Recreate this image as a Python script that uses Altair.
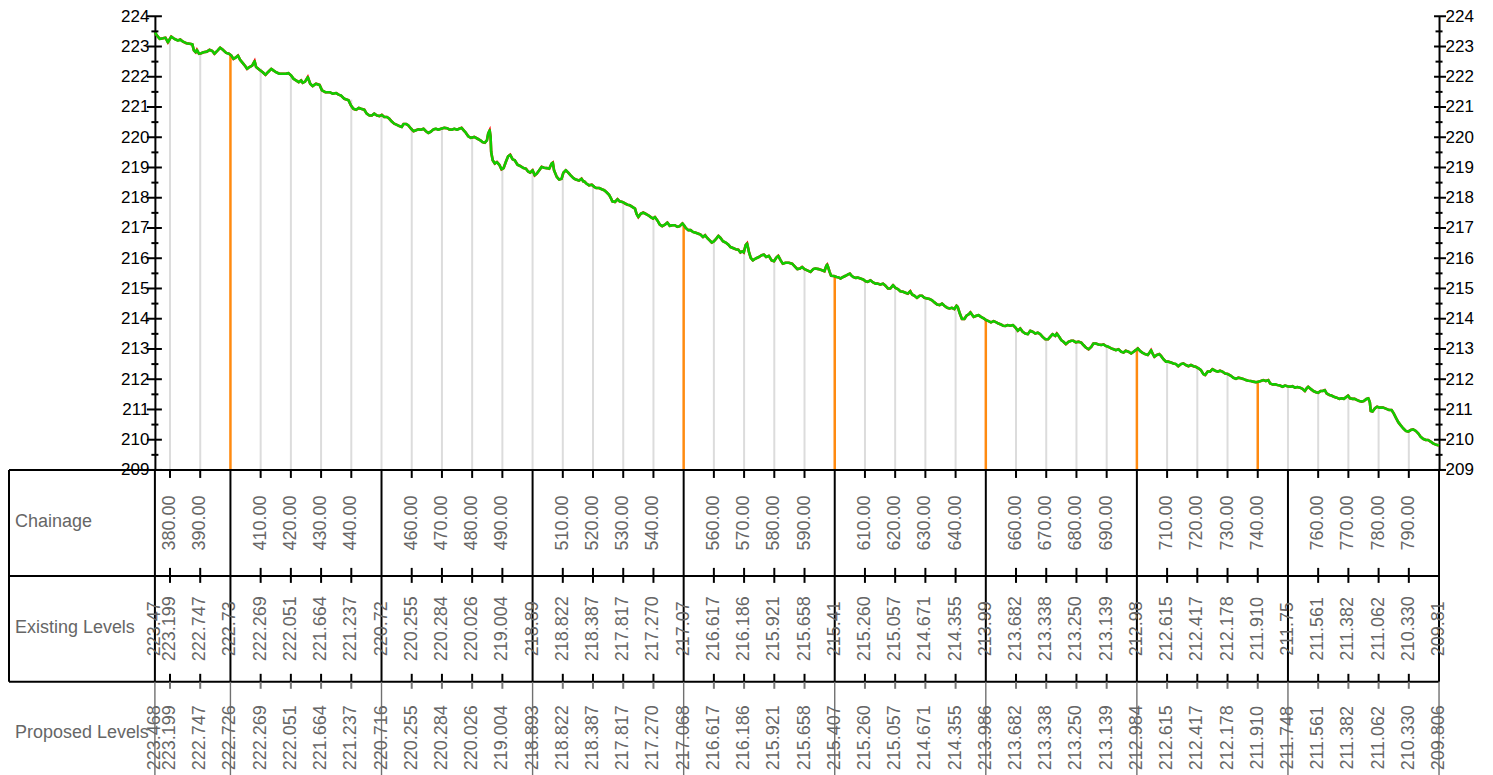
import altair as alt
import pandas as pd

FONT = "Liberation Sans"

# ---------------- data ----------------
# ground profile (chainage, level)
profile_points = [
    (375.0, 223.47), (375.7, 223.36), (376.6, 223.25), (377.7, 223.27), (378.5, 223.29), (379.3, 223.14),
    (380.4, 223.33), (381.5, 223.25), (382.6, 223.20), (383.4, 223.23), (384.3, 223.16), (385.4, 223.11),
    (386.5, 223.09), (387.4, 223.07), (387.9, 222.87), (388.5, 222.81), (388.9, 222.89), (389.6, 222.76),
    (390.3, 222.78), (391.1, 222.81), (392.2, 222.83), (393.1, 222.89), (394.0, 222.85), (394.7, 222.76),
    (395.8, 222.87), (396.6, 222.96), (397.5, 222.89), (398.6, 222.79), (399.5, 222.76), (400.3, 222.70),
    (401.0, 222.59), (401.7, 222.63), (402.5, 222.70), (403.2, 222.56), (404.1, 222.45), (405.0, 222.34),
    (405.5, 222.26), (406.3, 222.32), (407.2, 222.37), (408.0, 222.52), (408.5, 222.32), (409.6, 222.23),
    (410.7, 222.15), (411.6, 222.06), (412.4, 222.15), (413.5, 222.26), (414.2, 222.21), (415.1, 222.15),
    (416.2, 222.10), (417.3, 222.10), (418.4, 222.10), (419.2, 222.12), (420.1, 222.04), (420.9, 221.93),
    (421.7, 221.88), (422.6, 221.82), (423.4, 221.88), (423.9, 221.80), (424.7, 221.84), (425.6, 221.99),
    (426.4, 221.77), (427.2, 221.69), (428.3, 221.77), (429.5, 221.73), (430.3, 221.55), (431.4, 221.49),
    (432.8, 221.49), (433.9, 221.44), (435.0, 221.46), (435.8, 221.41), (436.6, 221.38), (437.7, 221.27),
    (439.1, 221.22), (439.9, 221.05), (440.7, 220.94), (441.6, 220.91), (442.5, 220.97), (443.2, 220.94),
    (444.3, 220.91), (445.1, 220.78), (446.0, 220.72),
    (446.8, 220.72), (447.6, 220.78), (448.5, 220.72), (449.3, 220.70), (450.1, 220.74), (450.9, 220.67),
    (451.8, 220.67), (452.6, 220.61), (453.4, 220.52), (454.2, 220.45), (455.1, 220.41), (455.9, 220.37),
    (456.7, 220.34), (457.3, 220.44), (458.1, 220.44), (458.9, 220.39), (459.8, 220.28), (460.6, 220.20),
    (461.4, 220.23), (462.2, 220.26), (463.1, 220.25), (463.9, 220.28), (464.7, 220.20), (465.5, 220.14),
    (466.4, 220.19), (467.2, 220.26), (468.0, 220.28), (468.8, 220.25), (469.7, 220.28), (470.8, 220.31),
    (471.7, 220.30), (472.4, 220.26), (473.2, 220.25), (474.1, 220.28), (475.0, 220.25), (475.7, 220.28),
    (476.5, 220.31), (477.2, 220.23), (477.9, 220.15), (478.7, 220.03), (479.6, 219.98), (480.7, 220.01),
    (481.8, 219.95), (482.7, 219.90), (483.4, 219.84), (484.2, 219.82), (484.9, 219.90), (485.3, 220.12),
    (485.8, 220.23), (486.1, 220.01), (486.3, 219.51), (486.8, 219.24), (487.5, 219.13), (488.2, 219.18),
    (489.0, 219.09), (489.7, 218.94), (490.4, 218.98), (491.2, 219.20), (491.9, 219.37), (492.6, 219.42),
    (493.4, 219.27), (494.1, 219.24), (495.0, 219.09), (495.9, 219.05), (497.0, 218.98), (497.8, 218.96),
    (498.5, 218.87), (499.2, 218.83), (500.0, 218.91), (500.7, 218.74), (501.4, 218.80), (502.2, 218.91),
    (503.0, 219.02), (503.8, 218.99), (504.7, 218.98), (505.5, 218.96), (506.3, 219.13), (506.7, 219.16),
    (507.1, 218.91), (508.0, 218.69), (508.8, 218.60), (509.6, 218.63), (510.2, 218.83), (511.0, 218.91),
    (511.8, 218.83), (512.6, 218.74), (513.5, 218.65), (514.3, 218.60), (515.4, 218.57), (516.2, 218.63),
    (516.8, 218.54),
    (517.1, 218.54), (517.8, 218.47), (518.7, 218.41), (519.6, 218.43), (520.4, 218.36), (521.1, 218.32),
    (522.0, 218.32), (522.9, 218.28), (523.7, 218.25), (524.4, 218.19), (525.3, 218.10), (525.9, 217.99),
    (526.4, 217.88), (527.3, 217.86), (528.1, 217.95), (528.8, 217.88), (529.7, 217.86), (530.6, 217.81),
    (531.4, 217.77), (532.2, 217.75), (533.0, 217.70), (533.9, 217.64), (534.4, 217.47), (535.0, 217.36),
    (535.8, 217.47), (536.6, 217.51), (537.4, 217.47), (538.3, 217.42), (539.1, 217.36), (539.9, 217.31),
    (540.5, 217.36), (541.3, 217.25), (542.1, 217.11), (542.9, 217.06), (543.8, 217.11), (544.6, 217.18),
    (545.4, 217.07), (546.3, 217.09), (547.1, 217.09), (547.9, 217.04), (548.7, 217.06), (549.6, 217.15),
    (550.1, 217.09), (550.7, 217.00), (551.5, 216.93), (552.3, 216.93), (553.1, 216.87), (554.0, 216.84),
    (554.9, 216.81), (555.6, 216.78), (556.4, 216.70), (557.1, 216.76), (557.8, 216.67), (558.6, 216.59),
    (559.3, 216.52), (560.0, 216.56), (560.8, 216.65), (561.5, 216.74), (562.2, 216.67), (563.0, 216.56),
    (563.9, 216.52), (564.8, 216.45), (565.5, 216.37), (566.3, 216.34), (567.2, 216.30), (568.1, 216.28),
    (568.8, 216.19), (569.4, 216.23), (569.9, 216.19), (570.5, 216.43), (571.0, 216.49), (571.6, 216.21),
    (572.2, 216.01), (572.9, 215.93), (573.8, 215.99), (574.9, 216.04), (575.8, 216.10), (576.6, 216.12),
    (577.3, 216.04), (578.2, 216.08), (579.1, 215.93), (579.9, 215.90), (580.6, 216.01), (581.3, 216.08),
    (582.1, 215.93), (582.8, 215.82), (583.7, 215.85), (584.8, 215.85), (585.9, 215.82),
    (587.6, 215.64), (588.5, 215.66), (589.2, 215.71), (590.0, 215.64), (590.9, 215.60), (592.0, 215.55),
    (592.9, 215.64), (593.6, 215.66), (594.7, 215.64), (595.8, 215.60), (596.6, 215.57), (597.2, 215.75),
    (597.5, 215.79), (597.8, 215.71), (598.3, 215.55), (598.8, 215.42), (599.7, 215.41), (600.6, 215.38),
    (601.4, 215.36), (601.9, 215.33), (602.8, 215.38), (603.6, 215.42), (604.3, 215.46), (605.0, 215.49),
    (605.4, 215.44), (606.1, 215.38), (606.9, 215.35), (607.6, 215.36), (608.5, 215.33), (609.4, 215.30),
    (610.2, 215.24), (610.9, 215.22), (611.8, 215.27), (612.7, 215.20), (613.5, 215.16), (614.2, 215.16),
    (615.1, 215.13), (616.0, 215.16), (616.8, 215.09), (617.6, 215.00), (618.4, 215.00), (619.3, 215.11),
    (620.1, 215.02), (620.9, 214.98), (621.7, 214.91), (622.6, 214.89), (623.4, 214.86), (624.2, 214.83),
    (625.0, 214.91), (625.6, 214.80), (626.4, 214.76), (627.2, 214.69), (628.1, 214.76), (628.9, 214.76),
    (629.7, 214.69), (630.6, 214.67), (631.4, 214.65), (632.2, 214.61), (633.0, 214.54), (633.9, 214.47),
    (634.7, 214.45), (635.5, 214.50), (636.3, 214.43), (637.2, 214.36), (638.0, 214.34), (638.8, 214.36),
    (639.6, 214.32), (640.3, 214.43), (640.7, 214.39), (641.4, 214.17), (642.1, 213.99), (642.9, 213.99),
    (643.6, 214.10), (644.3, 214.14), (644.9, 214.21), (645.4, 214.14), (646.0, 214.06), (646.9, 214.10),
    (647.6, 214.12), (648.4, 214.06), (649.3, 214.01), (650.2, 213.95), (650.9, 213.92), (651.7, 213.88),
    (652.6, 213.92), (653.5, 213.88), (654.2, 213.84), (655.0, 213.81), (655.7, 213.77), (656.5, 213.76),
    (657.2, 213.79), (658.1, 213.77), (659.0, 213.79),
    (659.8, 213.71), (660.6, 213.60), (661.4, 213.68), (662.2, 213.57), (663.1, 213.51), (663.9, 213.49),
    (664.7, 213.60), (665.5, 213.57), (666.4, 213.51), (667.2, 213.54), (668.0, 213.49), (668.8, 213.40),
    (669.7, 213.32), (670.6, 213.32), (671.3, 213.40), (672.1, 213.49), (673.0, 213.43), (673.5, 213.51),
    (674.1, 213.43), (675.0, 213.29), (675.7, 213.24), (676.5, 213.16), (677.4, 213.24), (678.3, 213.27),
    (679.0, 213.27), (679.8, 213.22), (680.7, 213.24), (681.6, 213.21), (682.3, 213.13), (683.1, 213.05),
    (684.0, 212.99), (684.9, 213.07), (685.6, 213.18), (686.4, 213.18), (687.3, 213.15), (688.2, 213.13),
    (689.0, 213.15), (689.7, 213.10), (690.6, 213.07), (691.5, 213.02), (692.3, 212.99), (693.0, 212.96),
    (693.9, 212.99), (694.8, 212.91), (695.6, 212.88), (696.3, 212.94), (697.2, 212.91), (698.1, 212.85),
    (698.9, 212.91), (699.6, 212.96), (700.3, 213.02), (701.1, 212.93), (701.8, 212.88), (702.7, 212.83),
    (703.6, 212.80), (704.4, 212.91), (704.7, 212.96), (705.2, 212.85), (705.8, 212.74), (706.6, 212.80),
    (707.4, 212.83), (708.0, 212.77), (708.8, 212.66), (709.6, 212.58), (710.4, 212.58), (711.3, 212.55),
    (712.1, 212.52), (712.9, 212.50), (713.7, 212.43), (714.6, 212.50), (715.4, 212.52), (716.2, 212.47),
    (717.1, 212.43), (717.9, 212.47), (718.7, 212.43), (719.5, 212.41), (720.4, 212.36), (721.2, 212.30),
    (722.0, 212.17), (722.6, 212.14), (723.4, 212.25), (724.2, 212.25), (725.0, 212.33), (725.9, 212.28),
    (726.8, 212.25), (727.5, 212.28), (728.3, 212.25), (729.2, 212.19), (730.1, 212.17),
    (731.0, 212.12), (731.9, 212.05), (732.8, 212.01), (733.6, 212.05), (734.4, 212.03), (735.2, 212.01),
    (736.1, 211.97), (736.9, 211.95), (737.7, 211.94), (738.5, 211.92), (739.4, 211.90), (740.2, 211.92),
    (741.0, 211.94), (741.8, 211.97), (742.7, 211.94), (743.5, 211.97), (744.1, 211.86), (744.9, 211.83),
    (745.7, 211.83), (746.5, 211.81), (747.4, 211.79), (748.2, 211.75), (749.0, 211.79), (749.8, 211.77),
    (750.7, 211.75), (751.5, 211.77), (752.3, 211.72), (753.1, 211.74), (754.0, 211.72), (754.8, 211.68),
    (755.6, 211.61), (756.2, 211.70), (756.7, 211.75), (757.5, 211.68), (758.4, 211.61), (759.3, 211.57),
    (760.0, 211.55), (760.8, 211.61), (761.5, 211.61), (762.2, 211.64), (762.8, 211.53), (763.7, 211.48),
    (764.4, 211.46), (765.2, 211.42), (766.1, 211.39), (767.0, 211.35), (767.7, 211.37), (768.5, 211.35),
    (769.4, 211.42), (769.9, 211.46), (770.5, 211.37), (771.4, 211.35), (772.1, 211.35), (772.9, 211.31),
    (773.6, 211.28), (774.4, 211.26), (775.1, 211.28), (776.0, 211.35), (776.6, 211.37), (777.1, 211.24),
    (777.4, 210.95), (778.0, 210.93), (778.8, 211.04), (779.5, 211.09), (780.4, 211.06), (781.5, 211.06),
    (782.6, 211.02), (783.5, 210.98), (784.3, 210.98), (785.0, 210.87), (785.7, 210.73), (786.5, 210.58),
    (787.2, 210.49), (788.1, 210.38), (789.0, 210.29), (789.8, 210.27), (790.6, 210.32), (791.4, 210.34),
    (792.3, 210.29), (793.1, 210.21), (793.9, 210.10), (794.7, 210.03), (795.6, 209.99), (796.4, 209.99),
    (797.2, 209.94), (798.0, 209.88), (799.1, 209.83), (800.0, 209.81),
]

# stations every 10 m (labelled in the Chainage row)
label_chainage = [380, 390, 410, 420, 430, 440, 460, 470, 480, 490, 510, 520, 530, 540,
                  560, 570, 580, 590, 610, 620, 630, 640, 660, 670, 680, 690,
                  710, 720, 730, 740, 760, 770, 780, 790]
label_level = [223.199, 222.747, 222.269, 222.051, 221.664, 221.237, 220.255, 220.284,
               220.026, 219.004, 218.822, 218.387, 217.817, 217.270, 216.617, 216.186,
               215.921, 215.658, 215.260, 215.057, 214.671, 214.355, 213.682, 213.338,
               213.250, 213.139, 212.615, 212.417, 212.178, 211.910, 211.561, 211.382,
               211.062, 210.330]

# section breaks
break_chainage = [375, 400, 450, 500, 550, 600, 650, 700, 750, 800]
break_existing = [223.47, 222.73, 220.72, 218.89, 217.07, 215.41, 213.99, 212.98, 211.75, 209.81]
break_proposed = [223.468, 222.726, 220.716, 218.893, 217.068, 215.407, 213.986, 212.984, 211.748, 209.806]

# stations highlighted in orange
orange_chainage = [400, 550, 600, 650, 700, 740]

major_ticks = list(range(209, 225))
minor_ticks = [v + 0.5 for v in range(209, 224)]

# ---------------- tables ----------------
profile_df = pd.DataFrame(profile_points, columns=["ch", "lev"])
labels_df = pd.DataFrame({
    "ch": label_chainage,
    "lev": label_level,
    "chtxt": [f"{c:.2f}" for c in label_chainage],
    "lvtxt": [f"{v:.3f}" for v in label_level],
})
breaks_df = pd.DataFrame({
    "ch": break_chainage,
    "ex": [f"{v:.2f}" for v in break_existing],
    "pr": [f"{v:.3f}" for v in break_proposed],
    "lev": break_existing,
})
drops_df = pd.concat([labels_df[["ch", "lev"]], breaks_df[["ch", "lev"]].iloc[1:-1]], ignore_index=True)
drops_df["orange"] = drops_df["ch"].isin(orange_chainage)
gray_df = drops_df[~drops_df["orange"]]
orange_df = drops_df[drops_df["orange"]]
major_df = pd.DataFrame({"v": major_ticks})
minor_df = pd.DataFrame({"v": minor_ticks})
one = pd.DataFrame({"k": [0]})

W, H = 1285, 454
xs = alt.Scale(domain=[375, 800], nice=False, zero=False)
ys = alt.Scale(domain=[209, 224], nice=False, zero=False)


def X():
    return alt.X("ch:Q", scale=xs, axis=None)


def Y(field):
    return alt.Y(field, scale=ys, axis=None)


TXT = "#666666"
FS = 18

gray = alt.Chart(gray_df).mark_rule(color="#dcdcdc", strokeWidth=2).encode(
    x=X(), y=Y("lev:Q"), y2=alt.datum(209))
orange = alt.Chart(orange_df).mark_rule(color="#ff8a10", strokeWidth=2.5).encode(
    x=X(), y=Y("lev:Q"), y2=alt.datum(209))
red = alt.Chart(profile_df).mark_line(color="#ff0000", strokeWidth=2.6, strokeJoin="miter",
                                      strokeMiterLimit=10).encode(x=X(), y=Y("lev:Q"))
green = alt.Chart(profile_df).mark_line(color="#11cc00", strokeWidth=2.6, strokeJoin="round").encode(
    x=X(), y=Y("lev:Q"))

axis_common = dict(values=major_ticks, format="d", ticks=False, domain=True, domainColor="black",
                   domainWidth=2, labelFontSize=17, labelColor="black", labelFont=FONT,
                   labelPadding=6, grid=False, title=None)

left_major = alt.Chart(major_df).mark_rule(color="black", strokeWidth=2).encode(
    y=alt.Y("v:Q", scale=ys, axis=alt.Axis(orient="left", **axis_common)),
    x=alt.value(-8), x2=alt.value(7))
left_minor = alt.Chart(minor_df).mark_rule(color="black", strokeWidth=2).encode(
    y=Y("v:Q"), x=alt.value(-3.5), x2=alt.value(3.5))
right_major = alt.Chart(major_df).mark_rule(color="black", strokeWidth=2).encode(
    y=alt.Y("v:Q", scale=ys, axis=alt.Axis(orient="right", **axis_common)),
    x=alt.value(W - 5), x2=alt.value(W + 7))
right_minor = alt.Chart(minor_df).mark_rule(color="black", strokeWidth=2).encode(
    y=Y("v:Q"), x=alt.value(W - 3.5), x2=alt.value(W + 3.5))

# table frame
TL = -146          # left edge of the label column
R1, R2, R3 = H, H + 106, H + 212
frame = []
for yy in (R1, R2, R3):
    frame.append(alt.Chart(one).mark_rule(color="black", strokeWidth=2).encode(
        x=alt.value(TL), x2=alt.value(W), y=alt.value(yy)))
frame.append(alt.Chart(one).mark_rule(color="black", strokeWidth=2).encode(
    x=alt.value(TL), y=alt.value(R1), y2=alt.value(R3)))
frame.append(alt.Chart(breaks_df).mark_rule(color="black", strokeWidth=2).encode(
    x=X(), y=alt.value(R1), y2=alt.value(R3)))
frame.append(alt.Chart(breaks_df).mark_rule(color="#707070", strokeWidth=1.4).encode(
    x=X(), y=alt.value(R3), y2=alt.value(R3 + 130)))
for y1, y2, col in ((R1, R1 + 8, "black"), (R2 - 8, R2 + 7, "black"),
                    (R3 - 8, R3, "black"), (R3, R3 + 7, "#777777")):
    frame.append(alt.Chart(labels_df).mark_rule(color=col, strokeWidth=2).encode(
        x=X(), y=alt.value(y1), y2=alt.value(y2)))

tstyle = dict(angle=270, fontSize=FS, color=TXT, font=FONT, align="center", baseline="middle")
texts = [
    alt.Chart(labels_df).mark_text(**tstyle).encode(x=X(), y=alt.value(R1 + 53), text="chtxt:N"),
    alt.Chart(labels_df).mark_text(**tstyle).encode(x=X(), y=alt.value(R2 + 53), text="lvtxt:N"),
    alt.Chart(breaks_df).mark_text(**tstyle).encode(x=X(), y=alt.value(R2 + 53), text="ex:N"),
    alt.Chart(labels_df).mark_text(**tstyle).encode(x=X(), y=alt.value(R3 + 56), text="lvtxt:N"),
    alt.Chart(breaks_df).mark_text(**tstyle).encode(x=X(), y=alt.value(R3 + 56), text="pr:N"),
]
for name, yy in (("Chainage", R1 + 52), ("Existing Levels", R2 + 52), ("Proposed Levels", R3 + 51)):
    texts.append(alt.Chart(one).mark_text(align="left", baseline="middle", fontSize=FS,
                                          color=TXT, font=FONT).encode(
        x=alt.value(TL + 6), y=alt.value(yy), text=alt.value(name)))

chart = alt.layer(
    gray, orange, red, green, left_major, left_minor, right_major, right_minor, *frame, *texts
).resolve_axis(y="independent").properties(
    width=W, height=H,
    padding={"left": 147, "top": 8, "right": 46, "bottom": 330},
    autosize=alt.AutoSizeParams(type="none"),
).configure_view(strokeWidth=0).configure_axis(labelFont=FONT)

chart.save("out.html", embed_options={"renderer": "svg", "actions": False})
